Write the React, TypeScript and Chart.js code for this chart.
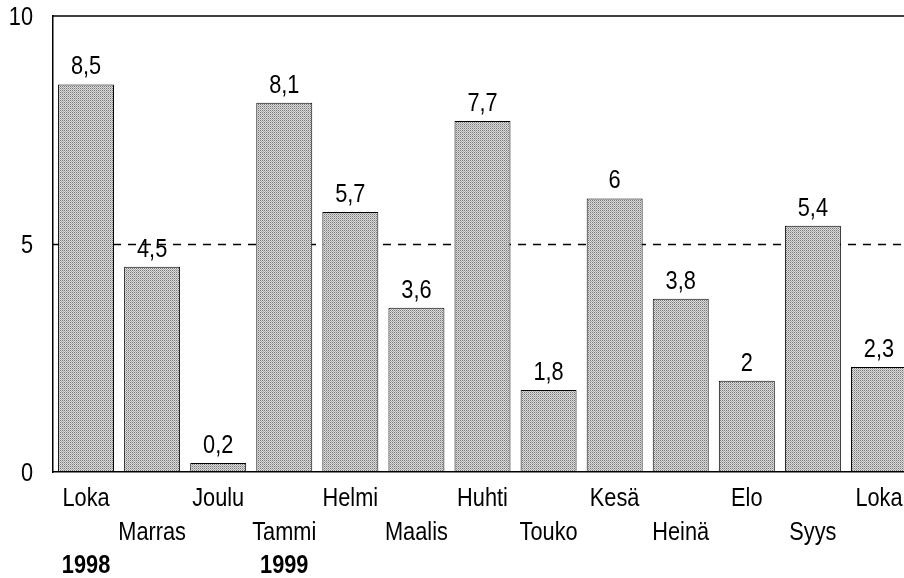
import React, { useEffect, useRef } from "react";
import { Chart, registerables } from "chart.js";

Chart.register(...registerables);

const MONTHS = ["Loka", "Marras", "Joulu", "Tammi", "Helmi", "Maalis", "Huhti", "Touko", "Kesä", "Heinä", "Elo", "Syys", "Loka"];
const YEARS = ["1998", "", "", "1999", "", "", "", "", "", "", "", "", ""];
const VALUES = [8.5, 4.5, 0.2, 8.1, 5.7, 3.6, 7.7, 1.8, 6, 3.8, 2, 5.4, 2.3];
const Y_TICKS = [0, 5, 10];
const REF_LINE = 5;

const FONT = "'Liberation Sans', Arial, Helvetica, sans-serif";
const NARROW = 0.87;

function makePattern(): CanvasPattern | string {
  const c = document.createElement("canvas");
  c.width = 2;
  c.height = 2;
  const g = c.getContext("2d");
  if (!g) return "#b0b0b0";
  g.fillStyle = "#7a7a7a";
  g.fillRect(0, 0, 1, 1);
  g.fillStyle = "#dadada";
  g.fillRect(1, 0, 1, 1);
  g.fillRect(0, 1, 1, 1);
  g.fillStyle = "#ababab";
  g.fillRect(1, 1, 1, 1);
  const p = g.createPattern(c, "repeat");
  return p || "#b0b0b0";
}

function narrowText(ctx: CanvasRenderingContext2D, text: string, x: number, y: number, font: string, align: CanvasTextAlign, baseline: CanvasTextBaseline) {
  ctx.save();
  ctx.font = font;
  ctx.textAlign = align;
  ctx.textBaseline = baseline;
  ctx.fillStyle = "#000";
  ctx.translate(x, y);
  ctx.scale(NARROW, 1);
  ctx.fillText(text, 0, 0);
  ctx.restore();
}

const decorPlugin = {
  id: "decor",
  beforeDatasetsDraw(chart: any) {
    const { ctx, chartArea, scales } = chart;
    const y = scales.y;
    ctx.save();
    const yy = Math.round(y.getPixelForValue(REF_LINE)) + 0.5;
    ctx.strokeStyle = "#000";
    ctx.lineWidth = 1.5;
    ctx.setLineDash([8, 7]);
    ctx.beginPath();
    ctx.moveTo(chartArea.left, yy);
    ctx.lineTo(chartArea.right, yy);
    ctx.stroke();
    ctx.setLineDash([]);
    const yt = y.getPixelForValue(10);
    ctx.lineWidth = 1.5;
    ctx.beginPath();
    ctx.moveTo(chartArea.left, yt);
    ctx.lineTo(chartArea.right, yt);
    ctx.stroke();
    ctx.restore();
  },
  afterDatasetsDraw(chart: any) {
    const { ctx, chartArea, scales } = chart;
    const x = scales.x;
    const y = scales.y;
    const meta = chart.getDatasetMeta(0);
    Y_TICKS.forEach((v) => {
      narrowText(ctx, String(v), chartArea.left - 20, y.getPixelForValue(v) + 2, `25px ${FONT}`, "right", "middle");
    });
    meta.data.forEach((bar: any, i: number) => {
      narrowText(ctx, String(VALUES[i]).replace(".", ","), bar.x, bar.y - 10, `25px ${FONT}`, "center", "alphabetic");
    });
    MONTHS.forEach((m, i) => {
      const px = x.getPixelForValue(i);
      const row = i % 2 === 0 ? 27 : 61;
      narrowText(ctx, m, px, chartArea.bottom + row, `25px ${FONT}`, "center", "middle");
      if (YEARS[i]) {
        narrowText(ctx, YEARS[i], px, chartArea.bottom + 94, `bold 25px ${FONT}`, "center", "middle");
      }
    });
  },
};

export default function App() {
  const ref = useRef<HTMLCanvasElement | null>(null);
  useEffect(() => {
    if (!ref.current) return;
    const chart = new Chart(ref.current, {
      type: "bar",
      data: {
        labels: MONTHS,
        datasets: [
          {
            data: VALUES,
            backgroundColor: makePattern() as any,
            borderColor: "#000",
            borderWidth: 1,
            borderSkipped: false,
            barPercentage: 0.847,
            categoryPercentage: 1,
          },
        ],
      },
      options: {
        animation: false,
        responsive: false,
        maintainAspectRatio: false,
        layout: { padding: { top: 16, bottom: 106, left: 0, right: 8 } },
        plugins: { legend: { display: false }, tooltip: { enabled: false } },
        scales: {
          x: {
            grid: { display: false, drawTicks: false },
            ticks: { display: false },
            border: { display: true, color: "#000", width: 1.5 },
            afterFit: (s: any) => {
              s.height = 0;
              s.paddingLeft = 0;
              s.paddingRight = 0;
            },
          },
          y: {
            min: 0,
            max: 10,
            afterBuildTicks: (s: any) => {
              s.ticks = Y_TICKS.map((v) => ({ value: v }));
            },
            afterFit: (s: any) => {
              s.width = 53;
              s.paddingTop = 0;
              s.paddingBottom = 0;
            },
            grid: { display: false, drawTicks: false },
            border: { display: true, color: "#000", width: 1.5 },
            ticks: { display: false },
          },
        },
      },
      plugins: [decorPlugin],
    });
    return () => chart.destroy();
  }, []);
  return (
    <div style={{ position: "fixed", left: 0, top: 0, width: 904, height: 578, overflow: "hidden", background: "#fff" }}>
      <canvas ref={ref} width={920} height={578} style={{ display: "block" }} />
    </div>
  );
}
